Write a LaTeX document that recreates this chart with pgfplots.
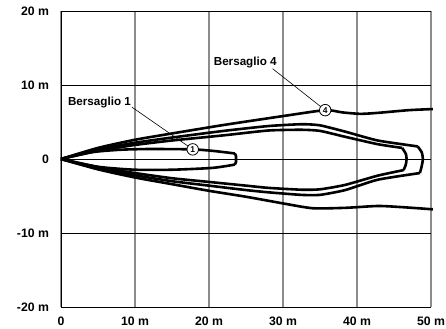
\documentclass[border=0pt]{standalone}
\usepackage{pgfplots}
\pgfplotsset{compat=1.18}
\usepackage{fontspec}
\setmainfont{Liberation Sans}
\begin{document}
\fontsize{11.5}{13}\selectfont\bfseries
\begin{tikzpicture}[x=1bp,y=1bp]
\begin{axis}[
  scale only axis, width=370bp, height=296bp,
  xmin=0, xmax=50, ymin=-20, ymax=20,
  xtick={0,10,20,30,40,50}, ytick={-20,-10,0,10,20},
  xticklabels={0,10 m,20 m,30 m,40 m,50 m},
  yticklabels={-20 m,-10 m,0,10 m,20 m},
  major tick length=0pt,
  grid=major,
  x grid style={draw=gray!90, line width=1.1bp},
  y grid style={draw=black, line width=0.7bp},
  axis x line*=bottom, axis y line*=left,
  axis line style={-, black, line width=1bp},
  every x tick label/.append style={yshift=-5.5bp, font=\fontsize{12.3}{14}\selectfont\bfseries},
  every y tick label/.append style={xshift=-8bp, font=\fontsize{12.3}{14}\selectfont\bfseries},
  clip=false,
]
% outer curve (Bersaglio 4)
\addplot[black, line width=2.6bp, smooth, tension=0.4] coordinates {
 (0,0) (5,1.5) (10,2.6) (15,3.45) (22,4.6) (30,5.8) (35.7,6.6) (38,6.3) (40.5,6.1) (43,6.25) (47,6.6) (50.25,6.75)};
\addplot[black, line width=2.6bp, smooth, tension=0.4] coordinates {
 (0,0) (5,-1.4) (10,-2.5) (15,-3.4) (20,-4.3) (25,-5.1) (30,-6.0) (34,-6.65) (38.4,-6.6) (42.8,-6.35) (46,-6.5) (50.25,-6.8)};
% curve B
\addplot[black, line width=2.6bp, smooth, tension=0.35] coordinates {
 (0,0) (5,1.3) (10,2.2) (15,2.9) (22,3.8) (28,4.45) (32.5,4.7) (35,4.55) (38.4,3.7) (42.8,2.5) (48.2,1.7)};
\addplot[black, line width=2.6bp, smooth, tension=0.35] coordinates {
 (48.2,1.7) (48.75,0.9) (48.9,0) (48.75,-0.95) (48.5,-1.9)};
\addplot[black, line width=2.6bp, smooth, tension=0.35] coordinates {
 (48.5,-1.9) (42.8,-2.8) (38.4,-4.2) (35,-4.85) (32.5,-4.85) (28,-4.5) (25,-4.2) (20,-3.6) (15,-3.0) (10,-2.2) (5,-1.3) (0,0)};
% curve A
\addplot[black, line width=2.6bp, smooth, tension=0.35] coordinates {
 (0,0) (5,1.1) (10,1.9) (15,2.5) (22,3.2) (28,3.85) (32.5,3.95) (35,3.8) (38.4,3.0) (42.8,2.0) (46.1,1.5)};
\addplot[black, line width=2.6bp, smooth, tension=0.35] coordinates {
 (46.1,1.5) (46.6,0.7) (46.7,0) (46.6,-0.75) (46.3,-1.5)};
\addplot[black, line width=2.6bp, smooth, tension=0.35] coordinates {
 (46.3,-1.5) (42.8,-2.25) (38.4,-3.5) (35,-4.1) (32.5,-4.15) (28,-3.9) (25,-3.6) (20,-3.1) (15,-2.6) (10,-1.9) (5,-1.1) (0,0)};
% lobe 1
\addplot[black, line width=2.6bp, smooth, tension=0.4] coordinates {
 (0,0) (4,0.9) (8,1.25) (12,1.35) (17.8,1.3) (20.5,1.1) (23.5,0.75)};
\addplot[black, line width=2.6bp] coordinates {(23.5,0.75) (23.65,0.4) (23.65,-0.4) (23.5,-0.75)};
\addplot[black, line width=2.6bp, smooth, tension=0.4] coordinates {
 (23.5,-0.75) (20.5,-1.2) (15,-1.45) (10,-1.45) (5,-1.05) (0,0)};
% annotations
\draw[black, line width=0.6bp] (axis cs:9.6,7.0) -- (axis cs:17.8,1.3);
\draw[black, line width=0.6bp] (axis cs:28.6,12.2) -- (axis cs:35.7,6.6);
\node[draw=black, line width=0.8bp, fill=white, circle, inner sep=0.6bp, minimum size=11.5bp, font=\fontsize{8.5}{9}\selectfont\bfseries] at (axis cs:17.8,1.3) {1};
\node[draw=black, line width=0.8bp, fill=white, circle, inner sep=0.6bp, minimum size=11.5bp, font=\fontsize{8.5}{9}\selectfont\bfseries] at (axis cs:35.7,6.6) {4};
\node[font=\fontsize{11.7}{13}\selectfont\bfseries] at (axis cs:5.2,7.7) {Bersaglio 1};
\node[font=\fontsize{11.7}{13}\selectfont\bfseries] at (axis cs:24.9,13.1) {Bersaglio 4};
\end{axis}
\pgfresetboundingbox
\path[use as bounding box] (-61bp,-22bp) rectangle (385bp,307bp);
\end{tikzpicture}
\end{document}
